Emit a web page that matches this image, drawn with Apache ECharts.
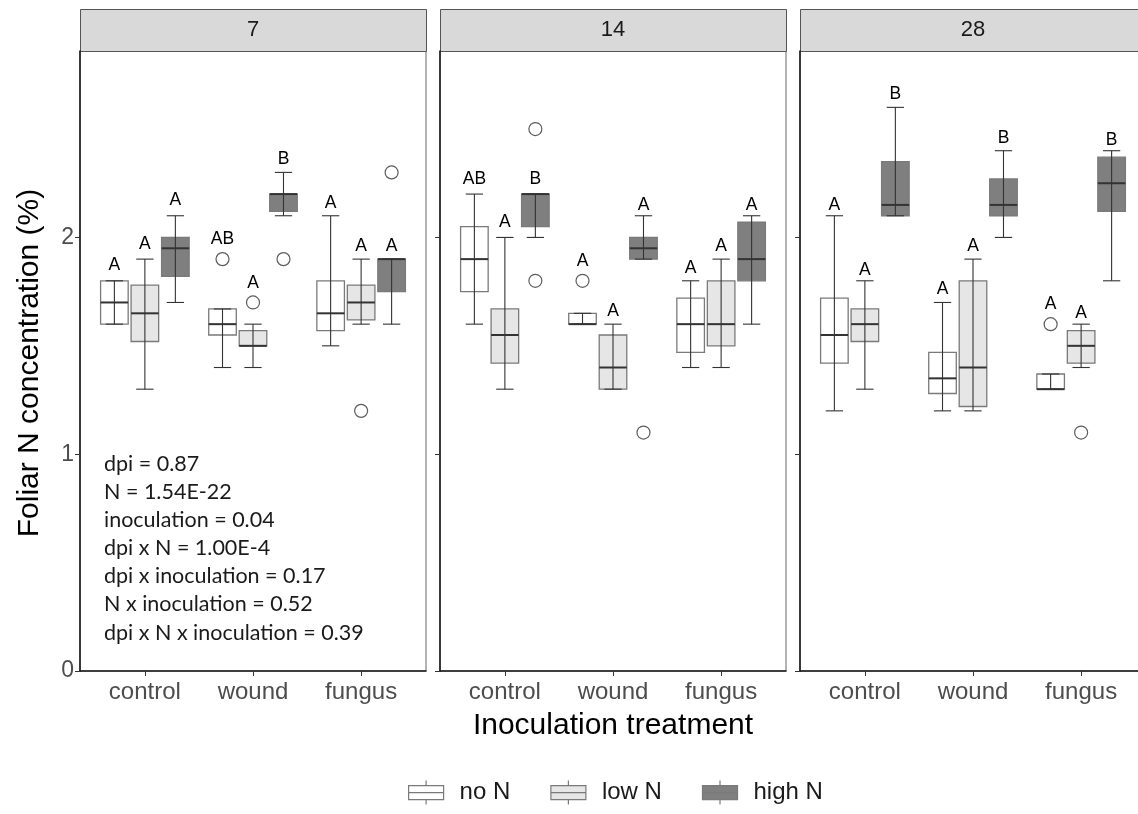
<!DOCTYPE html>
<html>
<head>
<meta charset="utf-8">
<script src="https://cdn.jsdelivr.net/npm/echarts@6/dist/echarts.min.js"></script>
<style>
  html, body { margin: 0; padding: 0; background: #fff; overflow: hidden; }
  #chart { width: 1150px; height: 814px; }
</style>
</head>
<body>
<div id="chart"></div>
<script>
const days = ['7', '14', '28'];
const treatments = ['control', 'wound', 'fungus'];
const nLevels = ['no N', 'low N', 'high N'];

// [whisker low, Q1, median, Q3, whisker high] for control, wound, fungus
const d7_noN = [[1.60, 1.60, 1.70, 1.80, 1.80], [1.40, 1.55, 1.60, 1.67, 1.67], [1.50, 1.57, 1.65, 1.80, 2.10]];
const d7_lowN = [[1.30, 1.52, 1.65, 1.78, 1.90], [1.40, 1.50, 1.50, 1.57, 1.60], [1.60, 1.62, 1.70, 1.78, 1.90]];
const d7_highN = [[1.70, 1.82, 1.95, 2.00, 2.10], [2.10, 2.12, 2.20, 2.20, 2.30], [1.60, 1.75, 1.90, 1.90, 1.90]];
const d14_noN = [[1.60, 1.75, 1.90, 2.05, 2.20], [1.60, 1.60, 1.60, 1.65, 1.65], [1.40, 1.47, 1.60, 1.72, 1.80]];
const d14_lowN = [[1.30, 1.42, 1.55, 1.67, 2.00], [1.30, 1.30, 1.40, 1.55, 1.60], [1.40, 1.50, 1.60, 1.80, 1.90]];
const d14_highN = [[2.00, 2.05, 2.20, 2.20, 2.20], [1.90, 1.90, 1.95, 2.00, 2.10], [1.60, 1.80, 1.90, 2.07, 2.10]];
const d28_noN = [[1.20, 1.42, 1.55, 1.72, 2.10], [1.20, 1.28, 1.35, 1.47, 1.70], [1.30, 1.30, 1.30, 1.37, 1.37]];
const d28_lowN = [[1.30, 1.52, 1.60, 1.67, 1.80], [1.20, 1.22, 1.40, 1.80, 1.90], [1.40, 1.42, 1.50, 1.57, 1.60]];
const d28_highN = [[2.10, 2.10, 2.15, 2.35, 2.60], [2.00, 2.10, 2.15, 2.27, 2.40], [1.80, 2.12, 2.25, 2.37, 2.40]];

// outliers: [treatment index, N level index, value]
const d7_outliers = [[1, 0, 1.90], [1, 1, 1.70], [1, 2, 1.90], [2, 1, 1.20], [2, 2, 2.30]];
const d14_outliers = [[0, 2, 2.50], [0, 2, 1.80], [1, 0, 1.80], [1, 2, 1.10]];
const d28_outliers = [[2, 0, 1.60], [2, 1, 1.10]];

// letters, rows = no N, low N, high N; cols = control, wound, fungus
const d7_letters = [['A', 'AB', 'A'], ['A', 'A', 'A'], ['A', 'B', 'A']];
const d14_letters = [['AB', 'A', 'A'], ['A', 'A', 'A'], ['B', 'A', 'A']];
const d28_letters = [['A', 'A', 'A'], ['A', 'A', 'A'], ['B', 'B', 'B']];
// height (in % N) where each letter sits
const d7_letterY = [[1.87, 1.99, 2.16], [1.97, 1.79, 1.96], [2.17, 2.36, 1.96]];
const d14_letterY = [[2.27, 1.89, 1.86], [2.07, 1.66, 1.96], [2.27, 2.15, 2.15]];
const d28_letterY = [[2.15, 1.76, 1.69], [1.85, 1.96, 1.65], [2.66, 2.46, 2.45]];

const statsLines = [
  'dpi = 0.87',
  'N = 1.54E-22',
  'inoculation = 0.04',
  'dpi x N = 1.00E-4',
  'dpi x inoculation = 0.17',
  'N x inoculation = 0.52',
  'dpi x N x inoculation = 0.39'
];

const panels = [
  { boxes: [d7_noN, d7_lowN, d7_highN], outliers: d7_outliers, letters: d7_letters, letterY: d7_letterY },
  { boxes: [d14_noN, d14_lowN, d14_highN], outliers: d14_outliers, letters: d14_letters, letterY: d14_letterY },
  { boxes: [d28_noN, d28_lowN, d28_highN], outliers: d28_outliers, letters: d28_letters, letterY: d28_letterY }
];

const fills = ['#ffffff', '#e6e6e6', '#7f7f7f'];
const dodge = [-0.282, 0, 0.282];
const boxW = 0.255;
const capW = 0.16;
const panelLeft = [80, 440, 800];
const panelW = 346;
const panelTop = 51;
const panelH = 620;
const font = 'Liberation Sans, Arial';

const chart = echarts.init(document.getElementById('chart'));

const grids = [], xAxes = [], yAxes = [], series = [], graphics = [];

panels.forEach((p, d) => {
  grids.push({
    left: panelLeft[d], top: panelTop, width: panelW, height: panelH,
    show: true, borderColor: '#666', borderWidth: 1, backgroundColor: '#fff'
  });
  xAxes.push({
    gridIndex: d, type: 'value', min: 0.4, max: 3.6,
    splitLine: { show: false },
    axisLine: { show: true, onZero: false, lineStyle: { color: '#1a1a1a', width: 1.6 } },
    axisTick: { show: true, customValues: [1, 2, 3], length: 5, lineStyle: { color: '#333' } },
    axisLabel: {
      customValues: [1, 2, 3], formatter: v => treatments[Math.round(v) - 1],
      fontSize: 24, color: '#4d4d4d', fontFamily: font, margin: 9
    }
  });
  yAxes.push({
    gridIndex: d, type: 'value', min: 0, max: 2.86,
    splitLine: { show: false },
    axisLine: { show: true, onZero: false, lineStyle: { color: '#1a1a1a', width: 1.6 } },
    axisTick: { show: true, customValues: [0, 1, 2], length: 5, lineStyle: { color: '#333' } },
    axisLabel: {
      show: d === 0, customValues: [0, 1, 2],
      fontSize: 23, color: '#4d4d4d', fontFamily: font, margin: 6
    }
  });

  p.boxes.forEach((stats, n) => {
    series.push({
      type: 'custom',
      name: nLevels[n],
      xAxisIndex: d, yAxisIndex: d,
      itemStyle: { color: fills[n] },
      encode: { x: 0, y: [1, 2, 3, 4, 5] },
      data: stats.map((s, t) => [t + 1].concat(s)),
      renderItem: (params, api) => {
        const x = api.value(0) + dodge[n];
        const cx = api.coord([x, 0])[0];
        const hw = api.size([boxW, 0])[0] / 2;
        const cw = api.size([capW, 0])[0] / 2;
        const yLow = api.coord([x, api.value(1)])[1];
        const yQ1 = api.coord([x, api.value(2)])[1];
        const yMed = api.coord([x, api.value(3)])[1];
        const yQ3 = api.coord([x, api.value(4)])[1];
        const yHigh = api.coord([x, api.value(5)])[1];
        const t = params.dataIndex;
        const yLet = api.coord([x, p.letterY[n][t]])[1];
        const dark = { stroke: '#333', lineWidth: 1.1 };
        return {
          type: 'group',
          children: [
            { type: 'rect', shape: { x: cx - hw, y: yQ3, width: hw * 2, height: yQ1 - yQ3 },
              style: { fill: fills[n], stroke: '#7a7a7a', lineWidth: 1.3 } },
            { type: 'line', shape: { x1: cx, y1: yHigh, x2: cx, y2: yLow }, style: dark },
            { type: 'line', shape: { x1: cx - cw, y1: yHigh, x2: cx + cw, y2: yHigh }, style: dark },
            { type: 'line', shape: { x1: cx - cw, y1: yLow, x2: cx + cw, y2: yLow }, style: dark },
            { type: 'line', shape: { x1: cx - hw, y1: yMed, x2: cx + hw, y2: yMed },
              style: { stroke: '#333', lineWidth: 2 } },
            { type: 'text', x: cx, y: yLet,
              style: { text: p.letters[n][t], fill: '#000', fontSize: 17.5,
                fontFamily: font, align: 'center', verticalAlign: 'middle' } }
          ]
        };
      }
    });
  });

  series.push({
    type: 'scatter',
    name: 'outliers',
    xAxisIndex: d, yAxisIndex: d,
    symbol: 'circle', symbolSize: 13,
    itemStyle: { color: '#fff', borderColor: '#333', borderWidth: 1.2 },
    data: p.outliers.map(o => [o[0] + 1 + dodge[o[1]], o[2]]),
    z: 3
  });

  graphics.push({
    type: 'rect', left: panelLeft[d], top: 9,
    shape: { width: panelW, height: 42 },
    style: { fill: '#d9d9d9', stroke: '#555', lineWidth: 1 }
  });
  graphics.push({
    type: 'text', x: panelLeft[d] + panelW / 2, y: 30,
    style: { text: days[d], fill: '#1a1a1a', fontSize: 22, fontFamily: font,
      align: 'center', verticalAlign: 'middle' }
  });
});

graphics.push({
  type: 'text', x: 30, y: 363, rotation: Math.PI / 2,
  style: { text: 'Foliar N concentration (%)', fill: '#000', fontSize: 30,
    fontFamily: font, align: 'center', verticalAlign: 'middle' }
});
graphics.push({
  type: 'text', x: 613, y: 726,
  style: { text: 'Inoculation treatment', fill: '#000', fontSize: 30,
    fontFamily: font, align: 'center', verticalAlign: 'middle' }
});
graphics.push({
  type: 'text', x: 104, y: 450,
  style: { text: statsLines.join('\n'), fill: '#1a1a1a', fontSize: 21.5, lineHeight: 28.1,
    fontFamily: 'Lato', align: 'left', verticalAlign: 'top' }
});

const boxIcon = 'path://M0,5 L35,5 L35,19 L0,19 Z M0,12 L35,12 M17.5,0 L17.5,5 M17.5,19 L17.5,24';

chart.setOption({
  animation: false,
  grid: grids,
  xAxis: xAxes,
  yAxis: yAxes,
  series: series,
  graphic: graphics,
  legend: {
    left: 408, top: 780, padding: 0,
    itemWidth: 35, itemHeight: 24, itemGap: 40,
    selectedMode: false,
    textStyle: { fontSize: 24, color: '#1a1a1a', fontFamily: font, padding: [0, 0, 0, 11] },
    data: nLevels.map((name, i) => ({
      name: name, icon: boxIcon,
      itemStyle: { color: fills[i], borderColor: '#7a7a7a', borderWidth: 1.2 }
    }))
  }
});
</script>
</body>
</html>
